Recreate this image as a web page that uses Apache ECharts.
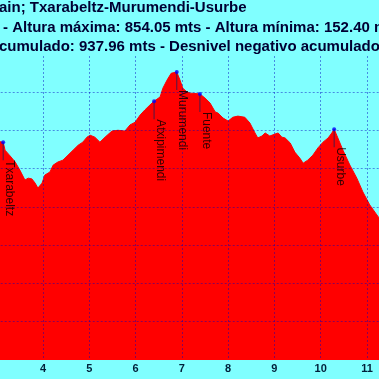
<!DOCTYPE html>
<html>
<head>
<meta charset="utf-8">
<script src="https://cdn.jsdelivr.net/npm/echarts@6/dist/echarts.min.js"></script>
<style>html,body{margin:0;padding:0;background:#80ffff;}#c{width:379px;height:379px;}</style>
</head>
<body>
<div id="c"></div>
<script>
const distanceKm = [3.00, 3.07, 3.14, 3.18, 3.29, 3.40, 3.50, 3.61, 3.68, 3.76, 3.83, 3.89, 3.98, 4.04, 4.15, 4.22, 4.32, 4.43, 4.54, 4.65, 4.76, 4.86, 4.95, 5.02, 5.12, 5.23, 5.34, 5.49, 5.62, 5.77, 5.88, 5.99, 6.10, 6.20, 6.31, 6.40, 6.53, 6.59, 6.68, 6.77, 6.81, 6.89, 6.96, 7.02, 7.11, 7.18, 7.39, 7.50, 7.61, 7.72, 7.78, 7.89, 8.00, 8.10, 8.21, 8.36, 8.47, 8.58, 8.64, 8.73, 8.80, 8.90, 9.01, 9.08, 9.16, 9.23, 9.34, 9.44, 9.55, 9.62, 9.72, 9.83, 9.94, 10.05, 10.16, 10.24, 10.29, 10.37, 10.48, 10.63, 10.78, 10.91, 11.06, 11.26, 11.40];
const altitudeM = [668, 670, 669, 648, 633, 617, 596, 570, 575, 573, 562, 549, 562, 583, 591, 609, 617, 622, 635, 648, 661, 669, 682, 687, 682, 669, 682, 698, 700, 698, 714, 721, 740, 753, 766, 776, 787, 810, 831, 849, 854.05, 852, 831, 810, 800, 797, 795, 784, 771, 748, 745, 732, 724, 734, 737, 734, 719, 693, 680, 685, 693, 685, 690, 693, 682, 680, 667, 643, 627, 614, 622, 635, 654, 669, 680, 693, 703, 680, 648, 609, 575, 539, 505, 471, 440];

// Named waypoints
const waypointNames = ['Txarabeltz', 'Atxipimendi', 'Murumendi', 'Fuente', 'Usurbe'];
const waypointKm = [3.14, 6.40, 6.89, 7.39, 10.29];
const waypointAlt = [669, 776, 852, 795, 703];

const titleLines = [
  'ain; Txarabeltz-Murumendi-Usurbe',
  '- Altura máxima: 854.05 mts - Altura mínima: 152.40 mts',
  'cumulado: 937.96 mts - Desnivel negativo acumulado'
];

const xMin = 3, xMax = 12, xStep = 1;
const yMin = 100, yMax = 894, yStep = 100;

const profile = distanceKm.map((d, i) => [d, altitudeM[i]]);
const waypoints = waypointNames.map((n, i) => ({ name: n, value: [waypointKm[i], waypointAlt[i]] }));

const FONT = '"Liberation Sans", Arial, sans-serif';
const gridColor = 'rgba(0,0,190,0.45)';

const chart = echarts.init(document.getElementById('c'), null, { renderer: 'canvas' });
chart.setOption({
  backgroundColor: '#80ffff',
  animation: false,
  grid: { left: -3.3, width: 416.6, top: 56, bottom: 19, outerBoundsMode: 'none', containLabel: false },
  graphic: titleLines.map((t, i) => ({
    type: 'text',
    left: [ -1, 3, -1 ][i],
    top: [0.5, 20, 39.5][i],
    style: { text: t, font: 'bold 15px ' + FONT, fill: '#000033' },
    z: 100
  })),
  xAxis: {
    type: 'value', min: xMin, max: xMax, interval: xStep, z: 10,
    axisLine: { show: false }, axisTick: { show: false },
    axisLabel: { showMinLabel: false, showMaxLabel: false, margin: 3, fontSize: 11, fontWeight: 'bold', color: '#00203a', fontFamily: FONT },
    splitLine: { show: true, showMinLine: false, showMaxLine: false, lineStyle: { color: gridColor, width: 1, type: [2, 2] } }
  },
  yAxis: {
    type: 'value', min: yMin, max: yMax, interval: yStep, z: 10,
    axisLine: { show: false }, axisTick: { show: false }, axisLabel: { show: false },
    splitLine: { show: true, showMinLine: false, showMaxLine: false, lineStyle: { color: gridColor, width: 1, type: [2, 2] } }
  },
  series: [
    {
      type: 'line', data: profile, symbol: 'none', z: 2,
      lineStyle: { color: '#ff0000', width: 1 },
      areaStyle: { color: '#ff0000', opacity: 1, origin: 'start' }
    },
    {
      type: 'scatter', data: waypoints, z: 12,
      symbol: 'rect', symbolSize: [1, 18], symbolOffset: [0, 9],
      itemStyle: { color: '#20205a' },
      label: {
        show: true, formatter: '{b}', position: 'bottom', distance: 0,
        rotate: -90, align: 'left', verticalAlign: 'bottom',
        fontSize: 12, fontFamily: FONT, color: '#000000'
      }
    },
    {
      type: 'scatter', data: waypoints, z: 13,
      symbol: 'circle', symbolSize: 4,
      itemStyle: { color: '#0000ff' }
    }
  ]
});
</script>
</body>
</html>
